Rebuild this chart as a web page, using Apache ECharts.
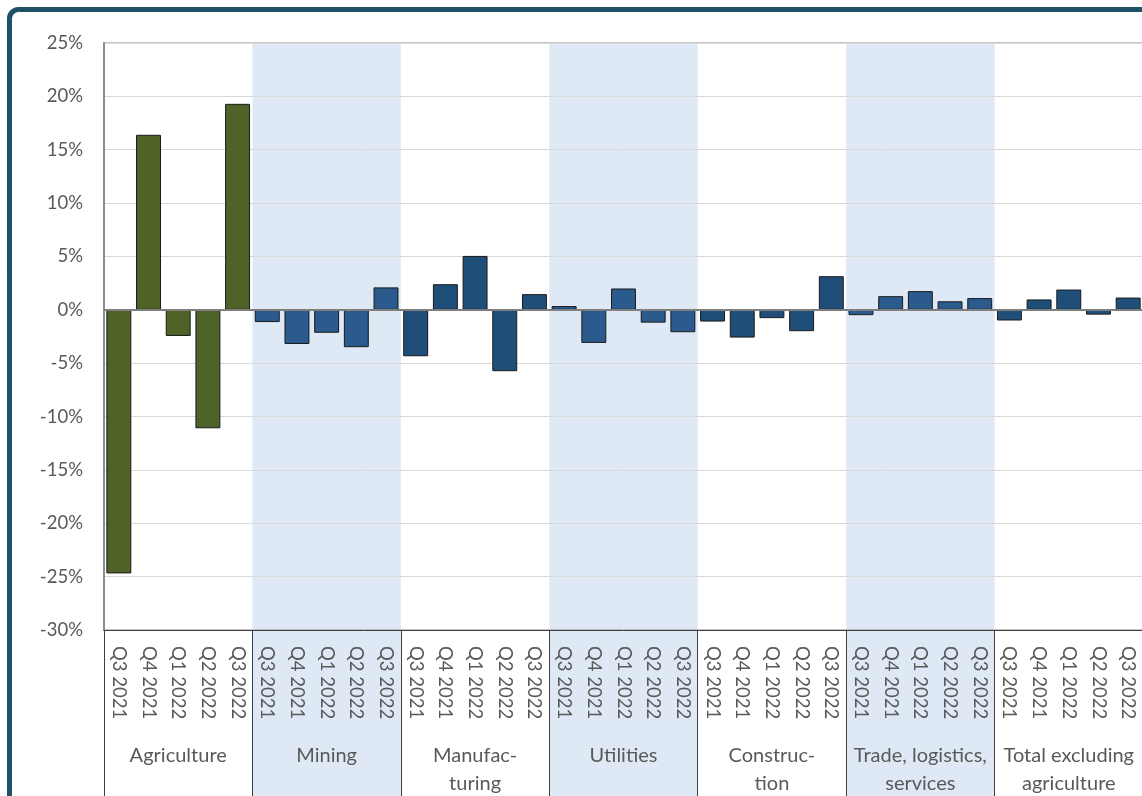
<!DOCTYPE html>
<html>
<head>
<meta charset="utf-8">
<script src="https://cdn.jsdelivr.net/npm/echarts@6/dist/echarts.min.js"></script>
<style>
  html, body { margin: 0; padding: 0; background: #ffffff; }
  #chart { width: 1142px; height: 796px; }
</style>
</head>
<body>
<div id="chart"></div>
<script>
// Quarterly change by sector, Q3 2021 to Q3 2022 (percent)
const quarters = ['Q3 2021', 'Q4 2021', 'Q1 2022', 'Q2 2022', 'Q3 2022'];
const sectors = [
  'Agriculture',
  'Mining',
  'Manufac-\nturing',
  'Utilities',
  'Construc-\ntion',
  'Trade, logistics,\nservices',
  'Total excluding\nagriculture'
];

const agriculture   = [-24.7, 16.4, -2.45, -11.1, 19.3];
const mining        = [-1.15, -3.2, -2.15, -3.5, 2.1];
const manufacturing = [-4.35, 2.4, 5.05, -5.75, 1.47];
const utilities     = [0.35, -3.1, 2.0, -1.2, -2.1];
const construction  = [-1.1, -2.6, -0.78, -2.0, 3.15];
const trade         = [-0.5, 1.28, 1.75, 0.8, 1.1];
const totalExAgri   = [-1.0, 0.97, 1.9, -0.45, 1.15];

const yTicks = { min: -30, max: 25, step: 5 };

// Bar fill per sector: green for agriculture, lighter blue on shaded bands
const sectorValues = [agriculture, mining, manufacturing, utilities, construction, trade, totalExAgri];
const sectorColors = ['#4f6228', '#2a5b8c', '#1f4e79', '#2a5b8c', '#1f4e79', '#2a5b8c', '#1f4e79'];

const categories = [];
const barData = [];
sectorValues.forEach(function (vals, s) {
  vals.forEach(function (v, q) {
    categories.push(quarters[q]);
    barData.push({ value: v, itemStyle: { color: sectorColors[s] } });
  });
});

const FONT = 'Lato, "Open Sans", sans-serif';
const TEXT = '#595959';

const chart = echarts.init(document.getElementById('chart'), null, { renderer: 'canvas' });

chart.setOption({
  animation: false,
  backgroundColor: '#ffffff',
  textStyle: { fontFamily: FONT },
  graphic: [{
    type: 'rect',
    z: 100,
    silent: true,
    shape: { x: 9.5, y: 9.5, width: 1300, height: 1000, r: 9 },
    style: { fill: 'none', stroke: '#1f5068', lineWidth: 5 }
  }],
  grid: [
    { left: 104, top: 43, width: 1039, height: 587, show: true, borderColor: '#8c8c8c', borderWidth: 1, backgroundColor: 'transparent', containLabel: false, outerBoundsMode: 'none' },
    { left: 104, top: 43, width: 1039, height: 800, containLabel: false, outerBoundsMode: 'none' }
  ],
  xAxis: [
    {
      // quarter labels under each bar
      type: 'category',
      gridIndex: 0,
      data: categories,
      position: 'bottom',
      boundaryGap: true,
      axisLine: { show: false, onZero: false },
      axisTick: { show: false },
      splitLine: { show: false },
      axisLabel: {
        interval: 0,
        rotate: -90,
        margin: 16,
        fontSize: 18.5,
        color: TEXT,
        fontFamily: FONT
      }
    },
    {
      // sector labels and separators
      type: 'category',
      gridIndex: 0,
      data: sectors,
      position: 'bottom',
      boundaryGap: true,
      axisLine: { show: true, onZero: false, lineStyle: { color: '#404040', width: 1 } },
      axisTick: { show: true, length: 170, alignWithLabel: false, interval: 0, lineStyle: { color: '#404040', width: 1 } },
      splitLine: { show: false },
      axisLabel: {
        interval: 0,
        margin: 112,
        fontSize: 20,
        lineHeight: 28,
        color: TEXT,
        fontFamily: FONT,
        verticalAlign: 'top'
      }
    },
    {
      // alternating sector shading, running down through the label rows
      type: 'category',
      gridIndex: 1,
      data: sectors,
      z: -10,
      boundaryGap: true,
      axisLine: { show: false },
      axisTick: { show: false },
      axisLabel: { show: false },
      splitLine: { show: false },
      splitArea: { show: true, interval: 0, areaStyle: { color: ['rgba(0,0,0,0)', '#dfe9f5'] } }
    }
  ],
  yAxis: [
    {
      type: 'value',
      gridIndex: 0,
      min: yTicks.min,
      max: yTicks.max,
      interval: yTicks.step,
      axisLine: { show: true, lineStyle: { color: '#8c8c8c', width: 2 } },
      axisTick: { show: false },
      splitLine: { show: true, lineStyle: { color: '#d9d9d9', width: 1 } },
      axisLabel: {
        margin: 21,
        fontSize: 18.5,
        color: TEXT,
        fontFamily: FONT,
        formatter: '{value}%'
      }
    },
    {
      type: 'value',
      gridIndex: 1,
      min: 0,
      max: 1,
      show: false,
      splitLine: { show: false }
    }
  ],
  series: [{
    type: 'bar',
    xAxisIndex: 0,
    yAxisIndex: 0,
    data: barData,
    barCategoryGap: '16%',
    itemStyle: { borderColor: '#1a1a1a', borderWidth: 1 },
    markLine: {
      silent: true,
      symbol: 'none',
      label: { show: false },
      lineStyle: { color: '#7f7f7f', width: 2, type: 'solid' },
      data: [{ yAxis: 0 }]
    }
  }]
});
</script>
</body>
</html>
